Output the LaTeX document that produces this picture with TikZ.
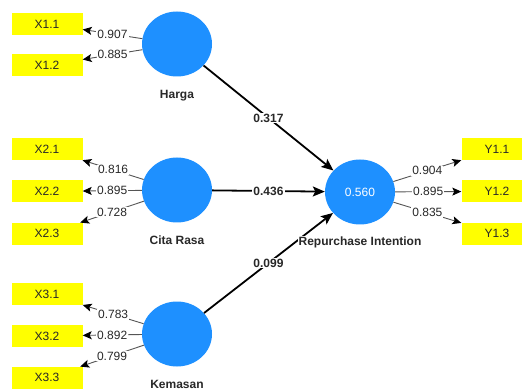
\documentclass[tikz,border=0pt]{standalone}
\usepackage{fontspec}
\setmainfont{Liberation Sans}
\usetikzlibrary{shapes.geometric, arrows.meta, positioning}
\definecolor{latentblue}{RGB}{30,144,255}
\definecolor{itemyellow}{RGB}{255,255,0}
\definecolor{textgrey}{RGB}{40,40,40}
\definecolor{linegrey}{RGB}{85,85,85}

\begin{document}
\begin{tikzpicture}[
    x=1pt, y=-1pt,
    every node/.style={font=\fontsize{12}{14}\selectfont, text=textgrey},
    latent/.style={ellipse, minimum width=70pt, minimum height=65pt,
                   inner sep=0pt, fill=latentblue, text=white},
    indicator/.style={rectangle, minimum width=71pt, minimum height=22pt,
                      inner sep=0pt, fill=itemyellow},
    lvname/.style={font=\bfseries\fontsize{12}{14}\selectfont, fill=white,
                   inner sep=1pt, text height=8.6pt, text depth=2.5pt},
    loading/.style={-{Stealth[length=9pt, width=8pt, inset=2pt, color=black]},
                    draw=linegrey, line width=0.9pt},
    structural/.style={-{Stealth[length=12pt, width=10pt, inset=2.5pt]},
                       draw=black, line width=1.8pt},
    loadval/.style={fill=white, inner sep=1pt},
    coefval/.style={fill=white, inner sep=1pt, font=\bfseries\fontsize{12}{14}\selectfont}
]
\useasboundingbox (0,0) rectangle (522,390);
\clip (0,0) rectangle (522,390);

% latent variables
\node (harga) [latent] at (177,44) {};
\node (citarasa) [latent] at (177,190) {};
\node (kemasan) [latent] at (177,334) {};
\node (repint) [latent] at (360,192) {0.560};

% indicators
\node (x11) [indicator] at (47,24) {X1.1};
\node (x12) [indicator, below=19pt of x11] {X1.2};

\node (x21) [indicator] at (47,149) {X2.1};
\node (x22) [indicator, below=20pt of x21] {X2.2};
\node (x23) [indicator, below=20pt of x22] {X2.3};

\node (x31) [indicator] at (47,294) {X3.1};
\node (x32) [indicator, below=19.5pt of x31] {X3.2};
\node (x33) [indicator, below=19.5pt of x32] {X3.3};

\node (y11) [indicator] at (497,149) {Y1.1};
\node (y12) [indicator, below=20pt of y11] {Y1.2};
\node (y13) [indicator, below=20pt of y12] {Y1.3};

% outer loadings
\draw [loading] (harga) -- node[loadval] {0.907} (x11);
\draw [loading] (harga) -- node[loadval] {0.885} (x12);
\draw [loading] (citarasa) -- node[loadval] {0.816} (x21);
\draw [loading] (citarasa) -- node[loadval] {0.895} (x22);
\draw [loading] (citarasa) -- node[loadval] {0.728} (x23);
\draw [loading] (kemasan) -- node[loadval] {0.783} (x31);
\draw [loading] (kemasan) -- node[loadval] {0.892} (x32);
\draw [loading] (kemasan) -- node[loadval] {0.799} (x33);
\draw [loading] (repint) -- node[loadval] {0.904} (y11);
\draw [loading] (repint) -- node[loadval] {0.895} (y12);
\draw [loading] (repint) -- node[loadval] {0.835} (y13);

% path coefficients
\draw [structural] (harga) -- node[coefval] {0.317} (repint);
\draw [structural] (citarasa) -- node[coefval] {0.436} (repint);
\draw [structural] (kemasan) -- node[coefval] {0.099} (repint);

% names
\node (hargaLbl) [lvname, below=12pt of harga] {Harga};
\node (citarasaLbl) [lvname, below=12pt of citarasa] {Cita Rasa};
\node (kemasanLbl) [lvname, below=12pt of kemasan] {Kemasan};
\node (repintLbl) [lvname, below=11pt of repint] {Repurchase Intention};

\end{tikzpicture}
\end{document}
